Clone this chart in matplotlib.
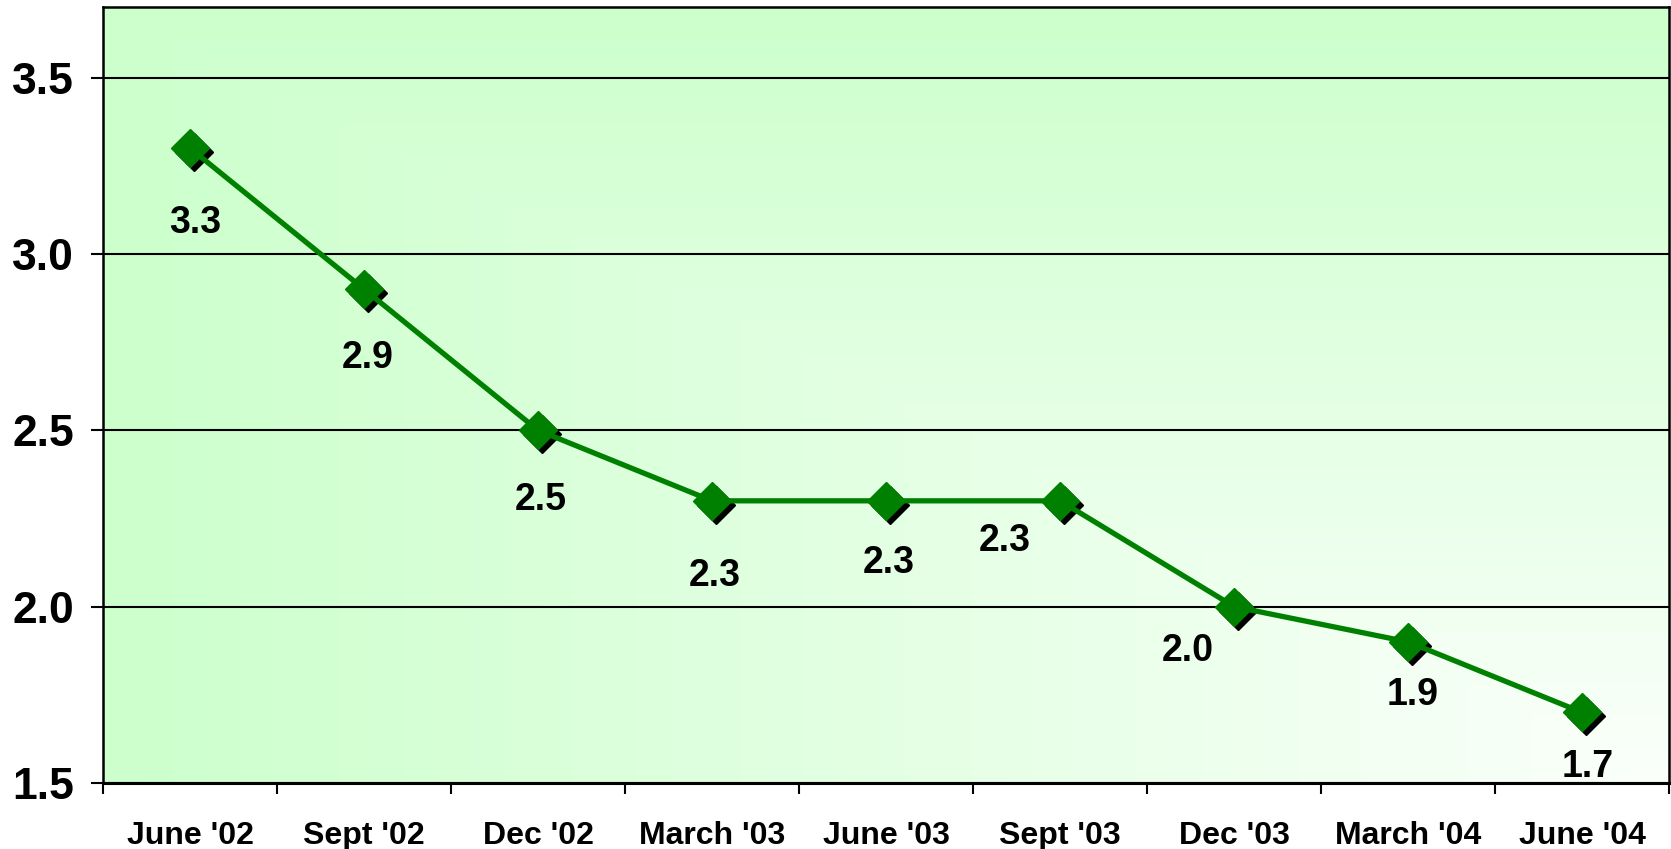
import numpy as np
import matplotlib.pyplot as plt
from matplotlib.colors import LinearSegmentedColormap
from matplotlib.transforms import ScaledTranslation

plt.rcParams["font.family"] = ["Liberation Sans", "DejaVu Sans"]
plt.rcParams["font.weight"] = "bold"

# Data
quarters = ["June '02", "Sept '02", "Dec '02", "March '03", "June '03",
            "Sept '03", "Dec '03", "March '04", "June '04"]
values = [3.3, 2.9, 2.5, 2.3, 2.3, 2.3, 2.0, 1.9, 1.7]
y_ticks = [1.5, 2.0, 2.5, 3.0, 3.5]

# label offsets in pixels (dx, dy) relative to each marker
label_offsets = [(5, -75), (4, -69), (3, -70), (3, -75), (3, -62),
                 (-55, -40), (-46, -44), (4, -53), (5, -55)]

green = "#008000"


def main():
    fig = plt.figure(figsize=(16.71, 8.49), dpi=100)
    ax = fig.add_axes([0.0616, 0.0777, 0.9374, 0.9141])

    x = np.arange(len(quarters))
    ax.set_xlim(-0.5, len(quarters) - 0.5)
    ax.set_ylim(1.5, 3.7)

    # corner gradient background: green everywhere, fading to white at bottom right
    nx = np.linspace(1, 0, 400)[None, :]
    ny = np.linspace(0, 1, 300)[:, None]
    t = np.maximum(nx, ny)
    cmap = LinearSegmentedColormap.from_list("bg", ["#FBFFFB", "#CCFFCC"])
    ax.imshow(t, cmap=cmap, extent=[-0.5, len(quarters) - 0.5, 1.5, 3.7],
              aspect="auto", origin="lower", zorder=0, vmin=0, vmax=1)

    ax.set_yticks(y_ticks)
    ax.set_yticklabels([f"{v:.1f}" for v in y_ticks])
    ax.grid(axis="y", color="black", linewidth=1.5, zorder=1)
    ax.set_axisbelow(False)

    # shadow markers
    shadow = ax.transData + ScaledTranslation(4 / 100, -4 / 100, fig.dpi_scale_trans)
    ax.plot(x, values, linestyle="none", marker="D", markersize=19,
            color="black", transform=shadow, zorder=2)
    ax.plot(x, values, color=green, linewidth=3.8, zorder=3)
    ax.plot(x, values, linestyle="none", marker="D", markersize=19,
            color=green, zorder=4)

    for xi, v, (dx, dy) in zip(x, values, label_offsets):
        ax.annotate(f"{v:.1f}", (xi, v), xytext=(dx, dy), textcoords="offset pixels",
                    ha="center", va="center", fontsize=27, fontweight="bold", zorder=5)

    # ticks at category boundaries, labels at centres
    ax.set_xticks(np.arange(-0.5, len(quarters)))
    ax.set_xticklabels([])
    ax.set_xticks(x, minor=True)
    ax.set_xticklabels(quarters, minor=True, fontsize=23, fontweight="bold")
    ax.tick_params(axis="x", which="major", direction="out", length=8, width=1.5)
    ax.tick_params(axis="x", which="minor", length=0, pad=27)
    ax.tick_params(axis="y", direction="out", length=9, width=1.5, pad=12,
                   labelsize=32)
    for lab in ax.get_yticklabels():
        lab.set_fontweight("bold")

    for side in ax.spines:
        ax.spines[side].set_linewidth(1.8)
        ax.spines[side].set_zorder(6)
    ax.spines["bottom"].set_linewidth(2.2)

    fig.savefig("out.png", dpi=100)


if __name__ == "__main__":
    main()
